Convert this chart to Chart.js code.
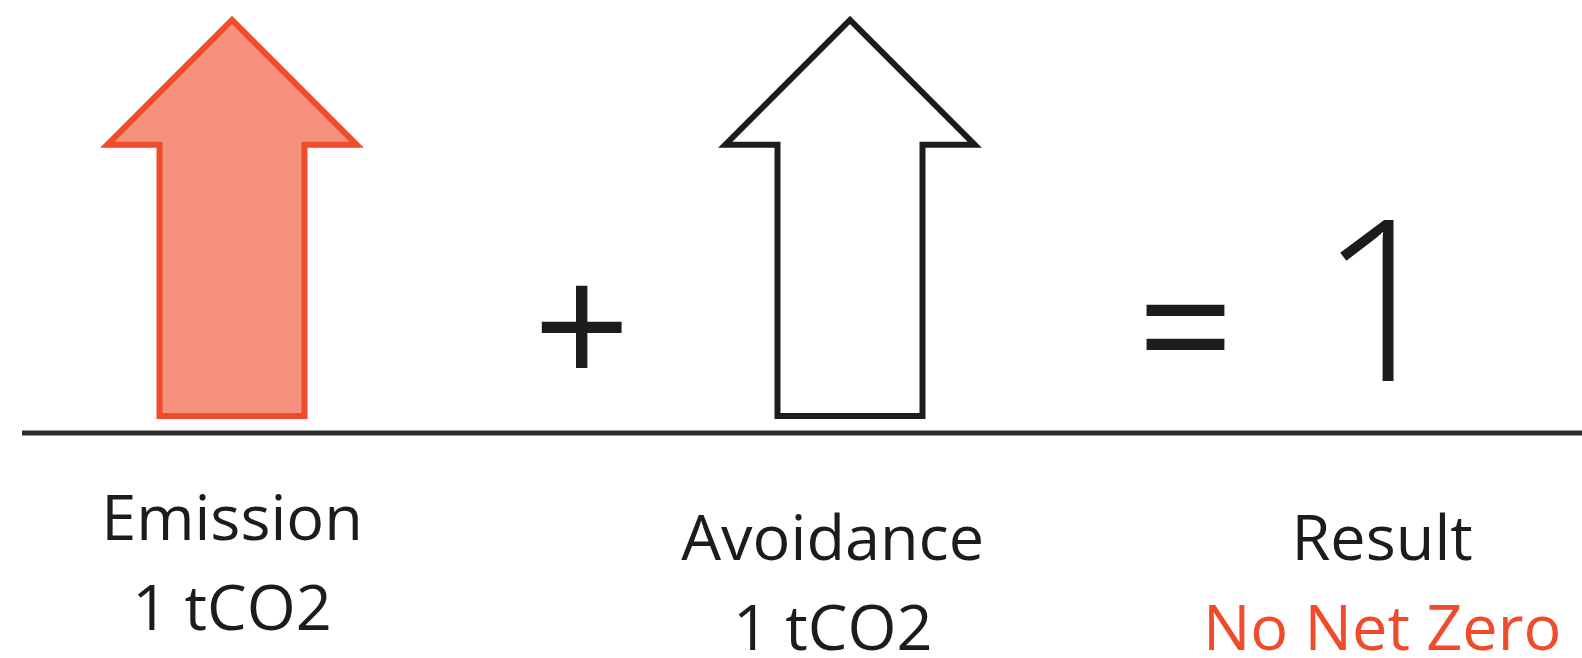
<!DOCTYPE html>
<html>
<head>
<meta charset="utf-8">
<script src="https://cdn.jsdelivr.net/npm/chart.js@4"></script>
<style>
  html, body { margin: 0; padding: 0; background: #fff; }
  #wrap { width: 1582px; height: 658px; position: relative; }
</style>
</head>
<body>
<div id="wrap"><canvas id="arrowChart"></canvas></div>
<script>
// values
const categories = ['Emission', 'Avoidance', 'Result'];
const amounts = [1, 1, null];           // tCO2, drawn as arrows
const amountLabels = ['1 tCO2', '1 tCO2', 'No Net Zero'];
const operators = ['+', '='];
const resultValue = ['1'];

const arrowFill = ['#f5917d', '#ffffff', 'rgba(0,0,0,0)'];
const arrowLine = ['#f04b2a', '#1c1c1c', 'rgba(0,0,0,0)'];

// draws the bars as arrows, plus the equation text and labels
const arrowPlugin = {
  id: 'arrows',
  beforeDatasetDraw() {
    return false;
  },
  afterDraw(chart, args, opts) {
    const ctx = chart.ctx;
    const xs = chart.scales.x;
    const ys = chart.scales.y;
    const meta = chart.getDatasetMeta(0);
    const ds = chart.data.datasets[0];
    const base = ys.getPixelForValue(0);

    ctx.save();
    // ground line
    ctx.strokeStyle = '#2e2e2e';
    ctx.lineWidth = 5;
    ctx.beginPath();
    ctx.moveTo(22, base + 17);
    ctx.lineTo(chart.width, base + 17);
    ctx.stroke();

    meta.data.forEach((bar, i) => {
      if (amounts[i] == null) return;
      const p = bar.getProps(['x', 'y', 'base', 'width'], true);
      const hw = p.width * opts.headRatio;
      const neck = p.y + hw / 2;
      ctx.beginPath();
      ctx.moveTo(p.x - p.width / 2, p.base);
      ctx.lineTo(p.x - p.width / 2, neck);
      ctx.lineTo(p.x - hw / 2, neck);
      ctx.lineTo(p.x, p.y);
      ctx.lineTo(p.x + hw / 2, neck);
      ctx.lineTo(p.x + p.width / 2, neck);
      ctx.lineTo(p.x + p.width / 2, p.base);
      ctx.closePath();
      ctx.fillStyle = ds.backgroundColor[i];
      ctx.fill();
      ctx.lineWidth = 6;
      ctx.lineJoin = 'miter';
      ctx.strokeStyle = ds.borderColor[i];
      ctx.stroke();
    });

    ctx.textAlign = 'center';
    ctx.textBaseline = 'alphabetic';

    // + and =
    ctx.fillStyle = '#1c1c1c';
    ctx.font = '170px "Open Sans"';
    operators.forEach((op, i) => {
      ctx.fillText(op, xs.getPixelForValue(opts.operatorAt[i]), base - 90 + 0.36 * 170);
    });
    ctx.font = '300 226px "Open Sans"';
    ctx.fillText(resultValue[0], xs.getPixelForValue(opts.resultAt), base - 35);

    // category labels under the line
    categories.forEach((c, i) => {
      const x = xs.getPixelForValue(opts.labelAt[i]);
      const top = base + 144 - opts.labelLift[i];
      ctx.font = '63px "Open Sans"';
      ctx.fillStyle = '#1c1c1c';
      ctx.fillText(c, x, top);
      ctx.fillStyle = i === 2 ? '#f04b2a' : '#1c1c1c';
      ctx.fillText(amountLabels[i], x, top + 90);
    });
    ctx.restore();
  }
};

new Chart(document.getElementById('arrowChart'), {
  type: 'bar',
  data: {
    labels: categories,
    datasets: [{
      data: amounts,
      backgroundColor: arrowFill,
      borderColor: arrowLine,
      categoryPercentage: 1,
      barPercentage: 145 / 618,
    }],
  },
  options: {
    responsive: true,
    maintainAspectRatio: false,
    animation: false,
    layout: { padding: { left: 232, right: 114, top: 20, bottom: 242 } },
    scales: {
      x: { type: 'category', offset: false, display: false },
      y: { min: 0, max: 1, display: false },
    },
    plugins: {
      legend: { display: false },
      tooltip: { enabled: false },
      arrows: {
        headRatio: 1.72,
        operatorAt: [0.566, 1.543],
        resultAt: 1.862,
        labelAt: [0, 0.972, 1.861],
        labelLift: [20, 0, 0],
      },
    },
  },
  plugins: [arrowPlugin],
});
</script>
</body>
</html>
